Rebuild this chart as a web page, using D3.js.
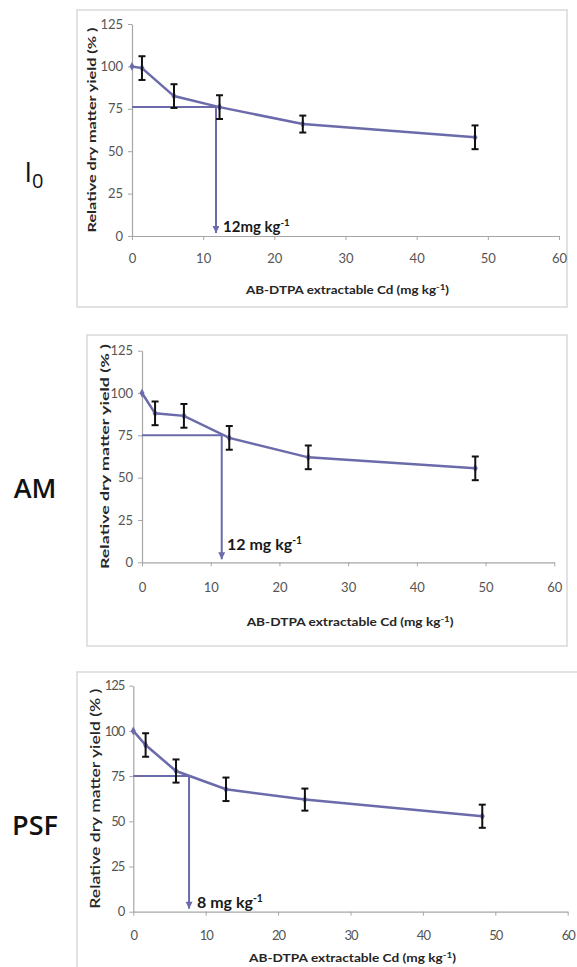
<!DOCTYPE html>
<html>
<head>
<meta charset="utf-8">
<script src="https://cdn.jsdelivr.net/npm/d3@7"></script>
<style>
  body { margin: 0; background: #fff; }
  text { font-family: Lato, "Open Sans", sans-serif; }
</style>
</head>
<body>
<div id="chart"></div>
<script>
// tick values shared by all three panels
var xTicks = [0, 10, 20, 30, 40, 50, 60];
var yTicks = [0, 25, 50, 75, 100, 125];

// treatments
var treatments = ["I0", "AM", "PSF"];

// AB-DTPA extractable Cd (mg/kg) and relative yield (%) with error bars
var cdI0 = [0, 1.4, 5.9, 12.3, 24, 48.2];
var yieldI0 = [100, 99, 82.5, 76, 66, 58.2];
var errI0 = [0, 7, 7, 7, 5, 7];

var cdAM = [0, 1.9, 6.1, 12.7, 24.2, 48.5];
var yieldAM = [100, 88, 86.5, 73.5, 62, 55.5];
var errAM = [0, 7, 7, 7, 7, 7];

var cdPSF = [0, 1.7, 5.9, 12.8, 23.7, 48.2];
var yieldPSF = [100, 92.2, 77.8, 67.7, 62, 52.8];
var errPSF = [0, 6.5, 6.4, 6.5, 6.1, 6.4];

// 75 % yield threshold read-offs
var thresholdCd = [11.8, 11.6, 7.7];
var thresholdYield = [76, 75, 75];
var thresholdLabel = ["12mg kg", "12 mg kg", "8 mg kg"];

var W = 577, H = 967;
var lineColor = "#6b6bab";

var svg = d3.select("#chart").append("svg")
    .attr("width", W)
    .attr("height", H);

svg.append("defs").append("marker")
    .attr("id", "arrow")
    .attr("viewBox", "0 0 10 10")
    .attr("refX", 5).attr("refY", 10)
    .attr("markerWidth", 7).attr("markerHeight", 8)
    .attr("markerUnits", "userSpaceOnUse")
    .attr("orient", "0")
  .append("path")
    .attr("d", "M0,0L10,0L5,10Z")
    .attr("fill", lineColor);

// layout of each panel (box, plot area, text placement)
var panels = [
  { box: [77, 10, 567, 307], xr: [132, 559], yr: [236, 24], pad: 14,
    xTitleY: 294, yTitleX: 92, yTitleLen: 205, yTitleSize: 11, yTitleWeight: "bold",
    xTitleLen: 203, labelPos: [223, 232], labelSize: 15, tagY: 182, tagSize: 27,
    series: [cdI0, yieldI0, errI0] },
  { box: [87, 335, 567, 646], xr: [142, 554.3], yr: [562.3, 350.7], pad: 16,
    xTitleY: 626, yTitleX: 105, yTitleLen: 225, yTitleSize: 12, yTitleWeight: "bold",
    xTitleLen: 207, labelPos: [227, 550], labelSize: 16, tagY: 498, tagSize: 27,
    series: [cdAM, yieldAM, errAM] },
  { box: [77, 672, 590, 1000], xr: [133.3, 567.7], yr: [911.7, 685.7], pad: 15,
    xTitleY: 962, yTitleX: 95, yTitleLen: 220, yTitleSize: 14, yTitleWeight: "600",
    xTitleLen: 207, labelPos: [197, 908], labelSize: 16, tagY: 835, tagSize: 27,
    series: [cdPSF, yieldPSF, errPSF] }
];

panels.forEach(function(p, i) {
  var g = svg.append("g");

  g.append("rect")
      .attr("x", p.box[0]).attr("y", p.box[1])
      .attr("width", p.box[2] - p.box[0])
      .attr("height", p.box[3] - p.box[1])
      .attr("fill", "none")
      .attr("stroke", "#d9d9d9")
      .attr("stroke-width", 1.5);

  var x = d3.scaleLinear().domain([0, 60]).range(p.xr);
  var y = d3.scaleLinear().domain([0, 125]).range(p.yr);

  var xAxis = g.append("g")
      .attr("transform", `translate(0,${y(0)})`)
      .call(d3.axisBottom(x).tickValues(xTicks).tickSize(4).tickPadding(p.pad).tickSizeOuter(0));
  var yAxis = g.append("g")
      .attr("transform", `translate(${x(0)},0)`)
      .call(d3.axisLeft(y).tickValues(yTicks).tickSize(4).tickPadding(5).tickSizeOuter(0));

  [xAxis, yAxis].forEach(function(a) {
    a.select(".domain").attr("stroke", "#a6a6a6").attr("stroke-width", 1.2);
    a.selectAll(".tick line").attr("stroke", "#a6a6a6");
    a.selectAll(".tick text")
        .attr("fill", "#555")
        .style("font-size", "13px")
        .style("font-family", "Lato, sans-serif")
        .style("letter-spacing", i == 2 ? "-1px" : "0px");
  });

  // axis titles
  var xt = g.append("text")
      .attr("x", (p.xr[0] + p.xr[1]) / 2 + 2)
      .attr("y", p.xTitleY)
      .attr("text-anchor", "middle")
      .attr("fill", "#262626")
      .style("font-size", "11px")
      .style("font-weight", "bold")
      .attr("textLength", p.xTitleLen)
      .attr("lengthAdjust", "spacingAndGlyphs");
  xt.append("tspan").text("AB-DTPA extractable Cd (mg kg");
  xt.append("tspan").attr("dy", -4).style("font-size", "8px").text("-1");
  xt.append("tspan").attr("dy", 4).text(")");

  g.append("text")
      .attr("transform", `translate(${p.yTitleX},${(p.yr[0] + p.yr[1]) / 2}) rotate(-90)`)
      .attr("text-anchor", "middle")
      .attr("dy", "0.35em")
      .attr("fill", "#262626")
      .style("font-size", p.yTitleSize + "px")
      .style("font-weight", p.yTitleWeight)
      .attr("textLength", p.yTitleLen)
      .attr("lengthAdjust", "spacingAndGlyphs")
      .text("Relative dry matter yield (% )");

  // 75% read-off lines
  g.append("line")
      .attr("x1", x(0)).attr("x2", x(thresholdCd[i]))
      .attr("y1", y(thresholdYield[i])).attr("y2", y(thresholdYield[i]))
      .attr("stroke", lineColor).attr("stroke-width", 2);
  g.append("line")
      .attr("x1", x(thresholdCd[i])).attr("x2", x(thresholdCd[i]))
      .attr("y1", y(thresholdYield[i])).attr("y2", y(0) - 3)
      .attr("stroke", lineColor).attr("stroke-width", 2)
      .attr("marker-end", "url(#arrow)");

  var lab = g.append("text")
      .attr("x", p.labelPos[0]).attr("y", p.labelPos[1])
      .attr("fill", "#1a1a1a")
      .style("font-size", p.labelSize + "px")
      .style("font-weight", "bold");
  lab.append("tspan").text(thresholdLabel[i]);
  lab.append("tspan").attr("dy", -6).style("font-size", (p.labelSize * 0.65) + "px").text("-1");

  // data line
  var pts = p.series[0].map(function(c, k) {
    return { cd: c, yld: p.series[1][k], err: p.series[2][k] };
  });

  g.append("path")
      .datum(pts)
      .attr("fill", "none")
      .attr("stroke", lineColor)
      .attr("stroke-width", 2.5)
      .attr("d", d3.line().x(d => x(d.cd)).y(d => y(d.yld)));

  g.selectAll(".pt")
    .data(pts)
    .join("path")
      .attr("transform", d => `translate(${x(d.cd)},${y(d.yld)})`)
      .attr("d", d3.symbol(d3.symbolDiamond, 22))
      .attr("fill", lineColor);

  // error bars
  var eb = g.selectAll(".eb")
    .data(pts.filter(d => d.err > 0))
    .join("g")
      .attr("stroke", "#111")
      .attr("stroke-width", 2);
  eb.append("line")
      .attr("x1", d => x(d.cd)).attr("x2", d => x(d.cd))
      .attr("y1", d => y(d.yld + d.err)).attr("y2", d => y(d.yld - d.err));
  eb.append("line")
      .attr("x1", d => x(d.cd) - 3.5).attr("x2", d => x(d.cd) + 3.5)
      .attr("y1", d => y(d.yld + d.err)).attr("y2", d => y(d.yld + d.err));
  eb.append("line")
      .attr("x1", d => x(d.cd) - 3.5).attr("x2", d => x(d.cd) + 3.5)
      .attr("y1", d => y(d.yld - d.err)).attr("y2", d => y(d.yld - d.err));

  // treatment tag at the left
  var tag = g.append("text")
      .attr("x", 35).attr("y", p.tagY)
      .attr("text-anchor", "middle")
      .attr("fill", "#111")
      .style("font-family", "'Open Sans', sans-serif")
      .style("font-weight", "600")
      .style("font-size", p.tagSize + "px");
  if (treatments[i] == "I0") {
    tag.attr("x", 34).style("font-weight", "500");
    tag.append("tspan").text("I");
    tag.append("tspan").attr("dy", 6).style("font-size", "20px").text("0");
  } else {
    tag.text(treatments[i]);
  }
});
</script>
</body>
</html>
